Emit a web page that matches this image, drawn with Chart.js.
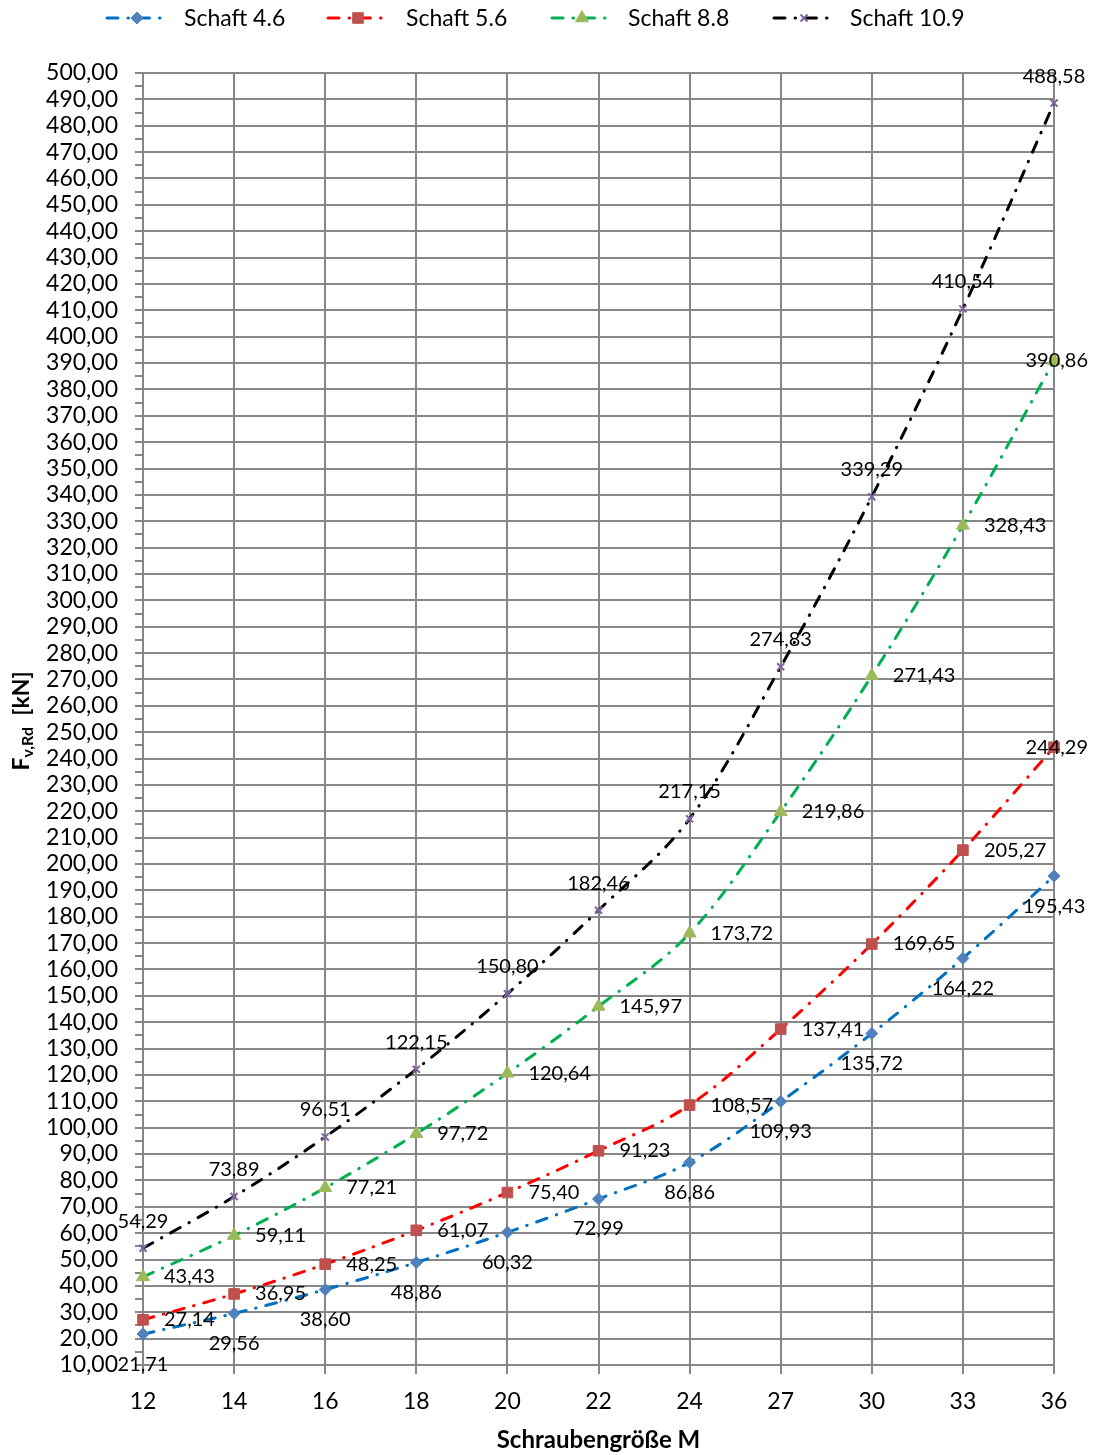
<!DOCTYPE html>
<html>
<head>
<meta charset="utf-8">
<title>Abscherkraft Schaft</title>
<script src="https://cdn.jsdelivr.net/npm/chart.js@4.4.1/dist/chart.umd.min.js"></script>
<style>
  html, body { margin: 0; padding: 0; background: #fff; }
  #wrap { width: 1096px; height: 1455px; }
</style>
</head>
<body>
<div id="wrap"><canvas id="c" width="1096" height="1455"></canvas></div>
<script>
// Schraubengrößen (category axis)
const sizes = ['12', '14', '16', '18', '20', '22', '24', '27', '30', '33', '36'];

// F_v,Rd in kN per strength class
const schaft46  = [21.71, 29.56, 38.60, 48.86, 60.32, 72.99, 86.86, 109.93, 135.72, 164.22, 195.43];
const schaft56  = [27.14, 36.95, 48.25, 61.07, 75.40, 91.23, 108.57, 137.41, 169.65, 205.27, 244.29];
const schaft88  = [43.43, 59.11, 77.21, 97.72, 120.64, 145.97, 173.72, 219.86, 271.43, 328.43, 390.86];
const schaft109 = [54.29, 73.89, 96.51, 122.15, 150.80, 182.46, 217.15, 274.83, 339.29, 410.54, 488.58];

const seriesNames = ['Schaft 4.6', 'Schaft 5.6', 'Schaft 8.8', 'Schaft 10.9'];

// y axis range
const yMin = 10, yMax = 500, yMajor = 10, yMinor = 5;

const FONT = 'Lato, "Open Sans", sans-serif';
const GRID = '#878787';
const DASH = [11, 10, 0.5, 10];

const fmt = v => v.toFixed(2).replace('.', ',');

function makeSet(label, data, line, fill, style, radius, labelPos) {
  return {
    label, data,
    borderColor: line,
    borderWidth: 3,
    borderDash: DASH,
    borderCapStyle: 'round',
    tension: 0.35,
    fill: false,
    pointStyle: style,
    pointRadius: radius,
    pointHoverRadius: radius,
    pointBackgroundColor: fill,
    pointBorderColor: fill,
    pointBorderWidth: style === 'crossRot' ? 2 : 1,
    labelPos
  };
}

const datasets = [
  makeSet(seriesNames[0], schaft46,  '#0070C0', '#4F81BD', 'rectRot', 6,   'below'),
  makeSet(seriesNames[1], schaft56,  '#FF0000', '#C0504D', 'rect',    7.5, 'right'),
  makeSet(seriesNames[2], schaft88,  '#00B050', '#9BBB59', 'triangle',7.5, 'right'),
  makeSet(seriesNames[3], schaft109, '#000000', '#8064A2', 'crossRot',5,   'above')
];

// legend, axis titles and value labels
const decorations = {
  id: 'decorations',
  afterDatasetsDraw(chart) {
    const ctx = chart.ctx;
    const W = chart.width;

    // value labels
    ctx.save();
    ctx.font = '20px ' + FONT;
    ctx.fillStyle = '#000';
    ctx.textBaseline = 'middle';
    chart.data.datasets.forEach((ds, i) => {
      const meta = chart.getDatasetMeta(i);
      meta.data.forEach((pt, j) => {
        const txt = fmt(ds.data[j]);
        const w = ctx.measureText(txt).width;
        let cx = pt.x, cy = pt.y;
        if (ds.labelPos === 'below') { cy = pt.y + 30; }
        else if (ds.labelPos === 'above') { cy = pt.y - 27; }
        else { cx = pt.x + 21 + w / 2; }
        if (cx + w / 2 > W - 8) cx = W - 8 - w / 2;
        ctx.textAlign = 'center';
        ctx.fillText(txt, cx, cy);
      });
    });
    ctx.restore();
  },
  afterDraw(chart) {
    const ctx = chart.ctx;
    const area = chart.chartArea;

    // legend
    ctx.save();
    const sampleX = [107, 328, 552, 774];
    const textX = [184, 406, 628, 850];
    const ly = 18;
    chart.data.datasets.forEach((ds, i) => {
      ctx.save();
      ctx.strokeStyle = ds.borderColor;
      ctx.lineWidth = 3;
      ctx.lineCap = 'round';
      ctx.setLineDash(DASH);
      ctx.beginPath();
      ctx.moveTo(sampleX[i], ly);
      ctx.lineTo(sampleX[i] + 60, ly);
      ctx.stroke();
      ctx.restore();
      ctx.save();
      ctx.fillStyle = ds.pointBackgroundColor;
      ctx.strokeStyle = ds.pointBorderColor;
      ctx.lineWidth = ds.pointBorderWidth;
      Chart.helpers.drawPoint(ctx, {
        pointStyle: ds.pointStyle, radius: ds.pointRadius, rotation: 0, borderWidth: ds.pointBorderWidth
      }, sampleX[i] + 30, ly);
      ctx.restore();
      ctx.fillStyle = '#000';
      ctx.font = '23px ' + FONT;
      ctx.textAlign = 'left';
      ctx.textBaseline = 'middle';
      ctx.fillText(ds.label, textX[i], ly + 1);
    });
    ctx.restore();

    // x axis title
    ctx.save();
    ctx.fillStyle = '#000';
    ctx.font = 'bold 24px ' + FONT;
    ctx.textAlign = 'center';
    ctx.textBaseline = 'middle';
    ctx.fillText('Schraubengröße M', (area.left + area.right) / 2, 1440);
    ctx.restore();

    // y axis title with subscript
    ctx.save();
    ctx.translate(22, 721);
    ctx.rotate(-Math.PI / 2);
    ctx.fillStyle = '#000';
    ctx.textBaseline = 'middle';
    ctx.textAlign = 'left';
    const mainFont = 'bold 23px ' + FONT;
    const subFont = 'bold 16px ' + FONT;
    ctx.font = mainFont; const wF = ctx.measureText('F').width;
    ctx.font = subFont; const wS = ctx.measureText('v,Rd').width;
    ctx.font = mainFont; const wU = ctx.measureText('  [kN]').width;
    let x0 = -(wF + wS + wU) / 2;
    ctx.font = mainFont; ctx.fillText('F', x0, 0); x0 += wF;
    ctx.font = subFont; ctx.fillText('v,Rd', x0, 6); x0 += wS;
    ctx.font = mainFont; ctx.fillText('  [kN]', x0, 0);
    ctx.restore();
  }
};

new Chart(document.getElementById('c'), {
  type: 'line',
  data: { labels: sizes, datasets },
  options: {
    responsive: false,
    devicePixelRatio: 1,
    animation: false,
    layout: { padding: { top: 73, right: 42, bottom: 0, left: 0 } },
    plugins: {
      legend: { display: false },
      tooltip: { enabled: false }
    },
    scales: {
      x: {
        type: 'category',
        offset: false,
        afterFit: s => { s.height = 90; },
        grid: { color: GRID, lineWidth: 2, tickLength: 9, tickColor: GRID },
        border: { color: GRID, width: 2 },
        ticks: { color: '#000', font: { family: FONT, size: 23 }, padding: 14, maxRotation: 0, autoSkip: false }
      },
      y: {
        min: yMin, max: yMax,
        afterFit: s => { s.width = 143; },
        grid: {
          color: c => (c.tick && Math.round(c.tick.value) % yMajor === 0) ? GRID : 'rgba(0,0,0,0)',
          tickColor: GRID,
          lineWidth: 2,
          tickLength: 8
        },
        border: { color: GRID, width: 2 },
        ticks: {
          stepSize: yMinor,
          autoSkip: false,
          color: '#000',
          padding: 17,
          font: { family: FONT, size: 23 },
          callback: v => (Math.round(v) % yMajor === 0) ? fmt(v) : ''
        }
      }
    }
  },
  plugins: [decorations]
});
</script>
</body>
</html>
